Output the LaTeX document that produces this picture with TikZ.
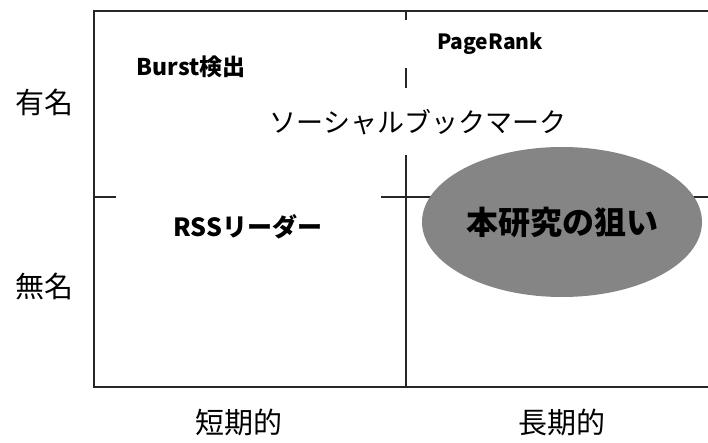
\documentclass[tikz,border=0pt]{standalone}
\usepackage{fontspec}
\setmainfont{Noto Sans CJK JP}
\usetikzlibrary{shapes.geometric}
\begin{document}
\begin{tikzpicture}[x=1pt,y=-1pt,
	frame/.style={line width=1.4pt,color=black!85},
	lab/.style={fill=white,inner sep=0pt,font=\fontsize{23}{23}\selectfont\bfseries},
	axislab/.style={font=\fontsize{29}{29}\selectfont}]
	\useasboundingbox (0,0) rectangle (708,443);
	\clip (0,0) rectangle (708,443);
	% frame and axes
	\coordinate (nw) at (94,11);
	\coordinate (sw) at (94,387);
	\coordinate (ne) at (720,11);
	\coordinate (se) at (720,387);
	\coordinate (top) at (406,11);
	\coordinate (bot) at (406,387);
	\coordinate (lft) at (94,197);
	\coordinate (rgt) at (720,197);
	\draw[frame] (ne) -- (nw) -- (sw) -- (se);
	\draw[frame] (top) -- (bot);
	\draw[frame] (lft) -- (rgt);
	% labels
	\node[lab] (burst) at (191,67) {Burst検出};
	\node[lab,minimum width=180pt,minimum height=48pt,font=\fontsize{21}{21}\selectfont\bfseries] (pagerank) at (490,44) {PageRank};
	\node[lab,minimum width=300pt,minimum height=67pt,font=\fontsize{27}{27}\selectfont] (social) at (418,122) {ソーシャルブックマーク};
	\node[lab,minimum width=265pt,minimum height=64pt,font=\fontsize{25}{25}\selectfont\bfseries] (rss) at (248,227) {RSSリーダー};
	\node[ellipse,fill=black!48,minimum width=280pt,minimum height=150pt,inner sep=0pt,
		font=\fontsize{32}{32}\selectfont\bfseries] (aim) at (562,222) {本研究の狙い};
	% axis labels
	\foreach \name/\y/\txt in {famous/102/有名,unknown/286/無名}
		\node[axislab] (\name) at (44,\y) {\txt};
	\foreach \name/\x/\txt in {short/239/短期的,long/562/長期的}
		\node[axislab] (\name) at (\x,422) {\txt};
\end{tikzpicture}
\end{document}
